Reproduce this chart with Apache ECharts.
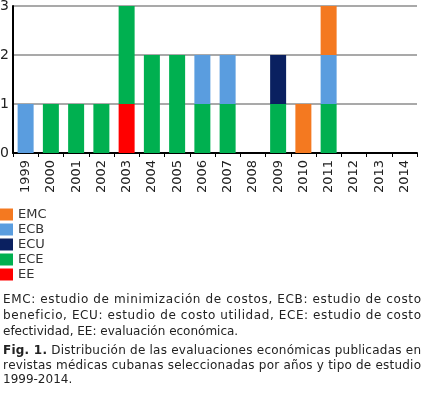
<!DOCTYPE html>
<html>
<head>
<meta charset="utf-8">
<script src="https://cdn.jsdelivr.net/npm/echarts@6/dist/echarts.min.js"></script>
<style>
  html, body { margin: 0; padding: 0; background: #fff; }
  #chart { width: 425px; height: 397px; }
</style>
</head>
<body>
<div id="chart"></div>
<script>
var years = ['1999', '2000', '2001', '2002', '2003', '2004', '2005', '2006',
             '2007', '2008', '2009', '2010', '2011', '2012', '2013', '2014'];
// stacked bottom to top: EE, ECE, ECU, ECB, EMC
var ee  = [0, 0, 0, 0, 1, 0, 0, 0, 0, 0, 0, 0, 0, 0, 0, 0];
var ece = [0, 1, 1, 1, 2, 2, 2, 1, 1, 0, 1, 0, 1, 0, 0, 0];
var ecu = [0, 0, 0, 0, 0, 0, 0, 0, 0, 0, 1, 0, 0, 0, 0, 0];
var ecb = [1, 0, 0, 0, 0, 0, 0, 1, 1, 0, 0, 0, 1, 0, 0, 0];
var emc = [0, 0, 0, 0, 0, 0, 0, 0, 0, 0, 0, 1, 1, 0, 0, 0];
var legendNames = ['EMC', 'ECB', 'ECU', 'ECE', 'EE'];
var yTicks = [0, 1, 2, 3];

var font = '"DejaVu Sans", Verdana, sans-serif';
var noteLines = [
  'EMC: estudio de minimización de costos, ECB: estudio de costo',
  'beneficio, ECU: estudio de costo utilidad, ECE: estudio de costo',
  'efectividad, EE: evaluación económica.'
];
var figLines = [
  'Fig. 1. Distribución de las evaluaciones económicas publicadas en',
  'revistas médicas cubanas seleccionadas por años y tipo de estudio',
  '1999-2014.'
];

function bar(name, data, color) {
  return {
    name: name,
    type: 'bar',
    stack: 'total',
    data: data,
    barWidth: 16,
    itemStyle: { color: color },
    emphasis: { disabled: true }
  };
}

// justified paragraph: extra space spread over every letter, like the pdf
var ctx = document.createElement('canvas').getContext('2d');
function paragraph(lines, top, lineHeight, boldChars) {
  var out = [];
  var left = 3, right = 421;
  lines.forEach(function (line, li) {
    var chars = line.split('');
    var fonts = chars.map(function (c, ci) {
      return (li === 0 && ci < boldChars ? 'bold ' : '') + '12px ' + font;
    });
    var widths = chars.map(function (c, ci) {
      ctx.font = fonts[ci];
      return ctx.measureText(c).width;
    });
    var total = widths.reduce(function (a, b) { return a + b; }, 0);
    var last = li === lines.length - 1;
    var extra = last ? 0 : (right - left - total) / (chars.length - 1);
    var x = left;
    chars.forEach(function (c, ci) {
      if (c !== ' ') {
        out.push({
          type: 'text',
          x: x,
          y: top + li * lineHeight,
          silent: true,
          style: { text: c, font: fonts[ci], fill: '#222', textVerticalAlign: 'middle' }
        });
      }
      x += widths[ci] + extra;
    });
  });
  return out;
}

var chart = echarts.init(document.getElementById('chart'));
chart.setOption({
  animation: false,
  textStyle: { fontFamily: font },
  grid: { left: 13, right: 8, top: 6, bottom: 244, outerBoundsMode: 'none' },
  legend: {
    orient: 'vertical',
    left: 0,
    top: 208,
    data: legendNames,
    itemWidth: 13,
    itemHeight: 12,
    itemGap: 2,
    icon: 'rect',
    textStyle: { fontFamily: font, fontSize: 13, color: '#333' },
    padding: 0
  },
  xAxis: {
    type: 'category',
    data: years,
    axisLine: { lineStyle: { color: '#000', width: 2 } },
    axisTick: { show: true, length: 4, lineStyle: { color: '#000' } },
    axisLabel: { rotate: 90, fontSize: 13, color: '#222', margin: 7, fontFamily: font }
  },
  yAxis: {
    type: 'value',
    min: yTicks[0],
    max: yTicks[yTicks.length - 1],
    interval: 1,
    axisLine: { show: true, lineStyle: { color: '#000', width: 2 } },
    axisTick: { show: false },
    axisLabel: { fontSize: 14, color: '#222', margin: 4, fontFamily: font },
    splitLine: { lineStyle: { color: '#8c8c8c', width: 1.5 } }
  },
  series: [
    bar('EE', ee, '#ff0000'),
    bar('ECE', ece, '#00b050'),
    bar('ECU', ecu, '#0a2060'),
    bar('ECB', ecb, '#5a9ddf'),
    bar('EMC', emc, '#f47920')
  ],
  graphic: paragraph(noteLines, 300, 16, 0).concat(paragraph(figLines, 351, 14.5, 7))
});
</script>
</body>
</html>
